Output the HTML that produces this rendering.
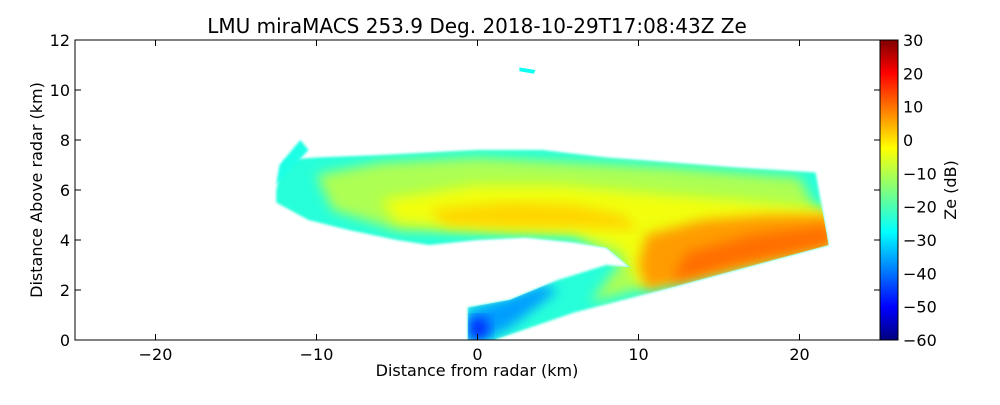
<!DOCTYPE html>
<html><head><meta charset="utf-8"><style>
body{margin:0;background:#fff;font-family:"Liberation Sans",sans-serif}
svg text{font-family:"DejaVu Sans","Liberation Sans",sans-serif}
</style></head><body>
<svg id="chart" width="1000" height="400" xmlns="http://www.w3.org/2000/svg">
<defs>
<linearGradient id="jet" x1="0" y1="1" x2="0" y2="0">
<stop offset="0" stop-color="#00007f"/><stop offset="0.11" stop-color="#0000ff"/>
<stop offset="0.36" stop-color="#00ffff"/><stop offset="0.5" stop-color="#7fff7f"/>
<stop offset="0.64" stop-color="#ffff00"/><stop offset="0.89" stop-color="#ff0000"/>
<stop offset="1" stop-color="#7f0000"/></linearGradient>
<filter id="blur" x="-20%" y="-20%" width="140%" height="140%"><feGaussianBlur stdDeviation="6"/></filter>
<filter id="blur2"><feGaussianBlur stdDeviation="1.2"/></filter>
<clipPath id="clip"><rect x="75" y="40" width="805" height="300"/></clipPath>
<clipPath id="cloud"><polygon id="cloudclip"/></clipPath>
</defs>
<g id="field" clip-path="url(#clip)"></g>
<rect x="75" y="40" width="805" height="300" fill="none" stroke="#000"/>
<g id="axes"></g>
<text x="477" y="33" font-size="20" text-anchor="middle">LMU miraMACS 253.9 Deg. 2018-10-29T17:08:43Z  Ze</text>
<text x="477" y="376" font-size="16" text-anchor="middle">Distance from radar (km)</text>
<text transform="translate(42,190) rotate(-90)" font-size="16" text-anchor="middle">Distance Above radar  (km)</text>
<rect x="880" y="40" width="18" height="300" fill="url(#jet)" stroke="#000"/>
<text transform="translate(956,190) rotate(-90)" font-size="16" text-anchor="middle">Ze (dB)</text>
</svg>
<script>
const xTicks=[-20,-10,0,10,20];
const yTicks=[0,2,4,6,8,10,12];
const cTicks=[30,20,10,0,-10,-20,-30,-40,-50,-60];
const regionZe=[-23,-11,-5,0,5,9,-24,-35,-45];
const regionPts=[
[[-12.5,6.0],[-12,7.2],[-10,7.3],[-6,7.4],[0,7.6],[4,7.6],[8,7.3],[12,7.1],[16,6.9],[21,6.7],[21.8,3.8],[12,2.1],[6,1.1],[1,0],[-0.6,0],[-0.6,1.3],[2,1.6],[5,2.4],[8,3.0],[9.5,2.9],[8,3.7],[6,3.9],[3,4.1],[0,4.0],[-3,3.8],[-5,4.0],[-8,4.4],[-10.5,4.8],[-12.5,5.5]],
[[-10,6.6],[-6,7.1],[0,7.3],[6,7.1],[12,6.9],[20,6.5],[22,4.0],[12,2.4],[7,1.5],[9,3.2],[6,4.2],[0,4.3],[-5,4.4],[-9,5.2]],
[[-6,5.6],[0,6.2],[5,6.2],[10,5.9],[16,5.6],[22,5.2],[22,3.9],[10,2.2],[9,3.6],[6,4.3],[0,4.5],[-5,4.7]],
[[-3,5.2],[2,5.5],[6,5.4],[9,5.0],[10,4.4],[7,4.5],[2,4.5],[-2,4.6]],
[[10.5,4.2],[14,4.8],[18,5.0],[22,5.0],[22,3.8],[14,2.5],[10.5,2.0],[10,3.0]],
[[13,3.5],[17,4.2],[22,4.6],[22,3.8],[16,3.0],[12,2.3]],
[[-12.5,6.2],[-10.5,7.6],[-11,8.0],[-12.3,7.0]],
[[-0.6,1.2],[1.5,1.6],[4,2.2],[5,2.0],[2,0.5],[0.5,0.0],[-0.6,0]],
[[-0.5,0.9],[0.5,0.9],[0.8,0.3],[0.2,0],[-0.5,0]]
];
const smallEcho=[[2.6,10.9],[3.6,10.8],[3.5,10.65],[2.6,10.75]];
const smallEchoZe=-25;
const X=v=>477.5+v*16.1, Y=v=>340-v*25, C=v=>340-(v+60)*300/90;
function jet(z){let t=(z+60)/90;const f=x=>Math.max(0,Math.min(1,x));
return `rgb(${Math.round(255*f(1.5-Math.abs(4*t-3)))},${Math.round(255*f(1.5-Math.abs(4*t-2)))},${Math.round(255*f(1.5-Math.abs(4*t-1)))})`;}
const ns="http://www.w3.org/2000/svg",field=document.getElementById('field'),axes=document.getElementById('axes');
const pts=p=>p.map(q=>X(q[0])+','+Y(q[1])).join(' ');
document.getElementById('cloudclip').setAttribute('points',pts(regionPts[0]));
const inner=document.createElementNS(ns,'g');


regionPts.forEach((p,i)=>{const el=document.createElementNS(ns,'polygon');


el.setAttribute('points',pts(p));
el.setAttribute('fill',jet(regionZe[i]));
if(i===0||i===6){el.setAttribute('filter','url(#blur2)');field.appendChild(el);}
else{el.setAttribute('filter','url(#blur)');inner.appendChild(el);}});
const wrap=document.createElementNS(ns,'g');


wrap.setAttribute('clip-path','url(#cloud)');wrap.appendChild(inner);field.appendChild(wrap);
const se=document.createElementNS(ns,'polygon');


se.setAttribute('points',pts(smallEcho));se.setAttribute('fill',jet(smallEchoZe));field.appendChild(se);
function txt(x,y,s,a){const t=document.createElementNS(ns,'text');


t.setAttribute('x',x);t.setAttribute('y',y);t.setAttribute('font-size','16');t.setAttribute('text-anchor',a);t.textContent=s;axes.appendChild(t);}
function ln(x1,y1,x2,y2){const l=document.createElementNS(ns,'line');


l.setAttribute('x1',x1);l.setAttribute('y1',y1);l.setAttribute('x2',x2);l.setAttribute('y2',y2);l.setAttribute('stroke','#000');axes.appendChild(l);}
xTicks.forEach(v=>{ln(X(v),340,X(v),334);ln(X(v),40,X(v),46);txt(X(v),360,String(v).replace('-','\u2212'),'middle');});
yTicks.forEach(v=>{ln(75,Y(v),81,Y(v));ln(880,Y(v),874,Y(v));txt(70,Y(v)+6,v,'end');});
cTicks.forEach(v=>{ln(880,C(v),884,C(v));ln(898,C(v),894,C(v));txt(903,C(v)+6,String(v).replace('-','\u2212'),'start');});
</script>
</body></html>
